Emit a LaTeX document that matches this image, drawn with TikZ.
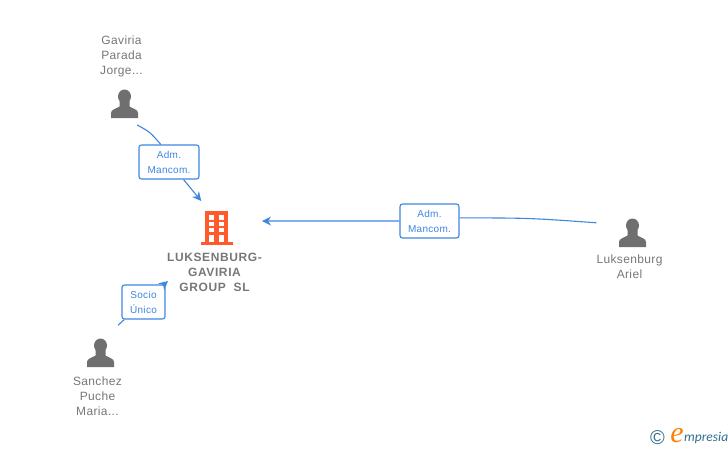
\documentclass[tikz,border=0pt]{standalone}
\usepackage{fontspec}
\setmainfont{Liberation Sans}
\newfontfamily\logofont{Carlito}
\newfontfamily\logoefont{Liberation Serif}
\usetikzlibrary{arrows.meta, positioning}
\definecolor{linkblue}{HTML}{3E86E0}
\definecolor{namegray}{HTML}{777777}
\definecolor{icongray}{HTML}{6F6F6F}
\definecolor{buildorange}{HTML}{FF5A2B}
\definecolor{logoteal}{HTML}{2F6F8A}
\tikzset{personlabel/.style={align=center, text=namegray, inner sep=0pt, font=\addfontfeatures{LetterSpace=3}\fontsize{12}{15}\selectfont}}
\tikzset{companylabel/.style={align=center, text=namegray, inner sep=0pt, font=\bfseries\addfontfeatures{LetterSpace=5}\fontsize{12}{15}\selectfont}}
\tikzset{role/.style={draw=linkblue, fill=white, rounded corners=2.5pt, line width=1.1pt, align=center, text=linkblue, inner sep=0pt, minimum height=34pt, font=\addfontfeatures{LetterSpace=3}\fontsize{10}{15}\selectfont}}
\tikzset{link/.style={draw=linkblue, line width=1.1pt}}
\tikzset{person/.style={circle, inner sep=0pt, outer sep=0pt}}
\tikzset{company/.style={rectangle, inner sep=0pt, outer sep=0pt, minimum width=94pt, minimum height=80pt}}
\tikzset{personicon/.pic={
  \fill[icongray] (0,-7.5) ellipse (6.5 and 7);
  \fill[icongray] (-13.5,14) -- (-13.5,9) .. controls (-13.5,5.5) and (-9,5) .. (-5,2.5) -- (-5,-3) -- (5,-3) -- (5,2.5) .. controls (9,5) and (13.5,5.5) .. (13.5,9) -- (13.5,14) -- cycle;
}}
\tikzset{buildingicon/.pic={
  \fill[buildorange] (-11,-17) rectangle (12,14);
  \fill[buildorange] (-15,14) rectangle (17,17);
  \foreach \winx in {-7,3} {
    \fill[white] (\winx,-13) rectangle ++(5,5);
    \fill[white] (\winx,-6) rectangle ++(5,4);
    \fill[white] (\winx,0) rectangle ++(5,4);
    \fill[white] (\winx,7) rectangle ++(5,7);
  }
}}
\begin{document}
\begin{tikzpicture}[x=1pt, y=-1pt]
\useasboundingbox (0,0) rectangle (728,450);

\node[company] (luksenburggroup) at (215,241) {};
\pic at (216,228) {buildingicon};
\node[companylabel] (groupname) at (214.5,272) {LUKSENBURG-\\GAVIRIA\\GROUP\ \ SL};

\node[person, minimum size=49.4pt] (gaviria) at (124,104) {};
\pic at (124.5,104) {personicon};
\node[personlabel] (gavirianame) at (121.5,56) {Gaviria\\Parada\\Jorge...};

\node[person, minimum size=74pt] (ariel) at (632,233) {};
\pic at (632.5,233) {personicon};
\node[personlabel] (arielname) at (629.5,267) {Luksenburg\\Ariel};

\node[person, minimum size=66pt] (sanchez) at (100,353) {};
\pic at (100.5,353) {personicon};
\node[personlabel] (sancheznamer) at (97.5,396) {Sanchez\\Puche\\Maria...};

\node[role, minimum width=60pt] (admgaviria) at (169,162) {Adm.\\Mancom.};
\node[role, minimum width=59pt] (admariel) at (429.5,221) {Adm.\\Mancom.};
\node[role, minimum width=43pt] (sociosanchez) at (143.5,302) {Socio\\Único};

\draw[link] (gaviria.-58) .. controls (150,132) .. (admgaviria.115);
\draw[link, -{Stealth[length=9pt, width=9pt]}] (admgaviria) -- (luksenburggroup.109);
\draw[link] (ariel.164) .. controls (530,218) .. (admariel.6);
\draw[link, -{Stealth[length=9pt, width=9pt]}] (admariel) -- (luksenburggroup.23);
\draw[link] (sanchez.57) -- (sociosanchez);
\draw[link, -{Stealth[length=9pt, width=9pt]}] (sociosanchez) -- (luksenburggroup.south west);

\node[text=logoteal, inner sep=0pt, font=\fontsize{20}{20}\selectfont] (logocopy) at (657.5,438) {©};
\node[text=orange, inner sep=0pt, font=\logoefont\itshape\fontsize{30}{30}\selectfont] (logoe) at (677,436) {e};
\node[anchor=west, text=logoteal, inner sep=0pt, font=\logofont\itshape\fontsize{13.5}{14}\selectfont] (logotext) at (684,438) {mpresia};
\end{tikzpicture}
\end{document}
